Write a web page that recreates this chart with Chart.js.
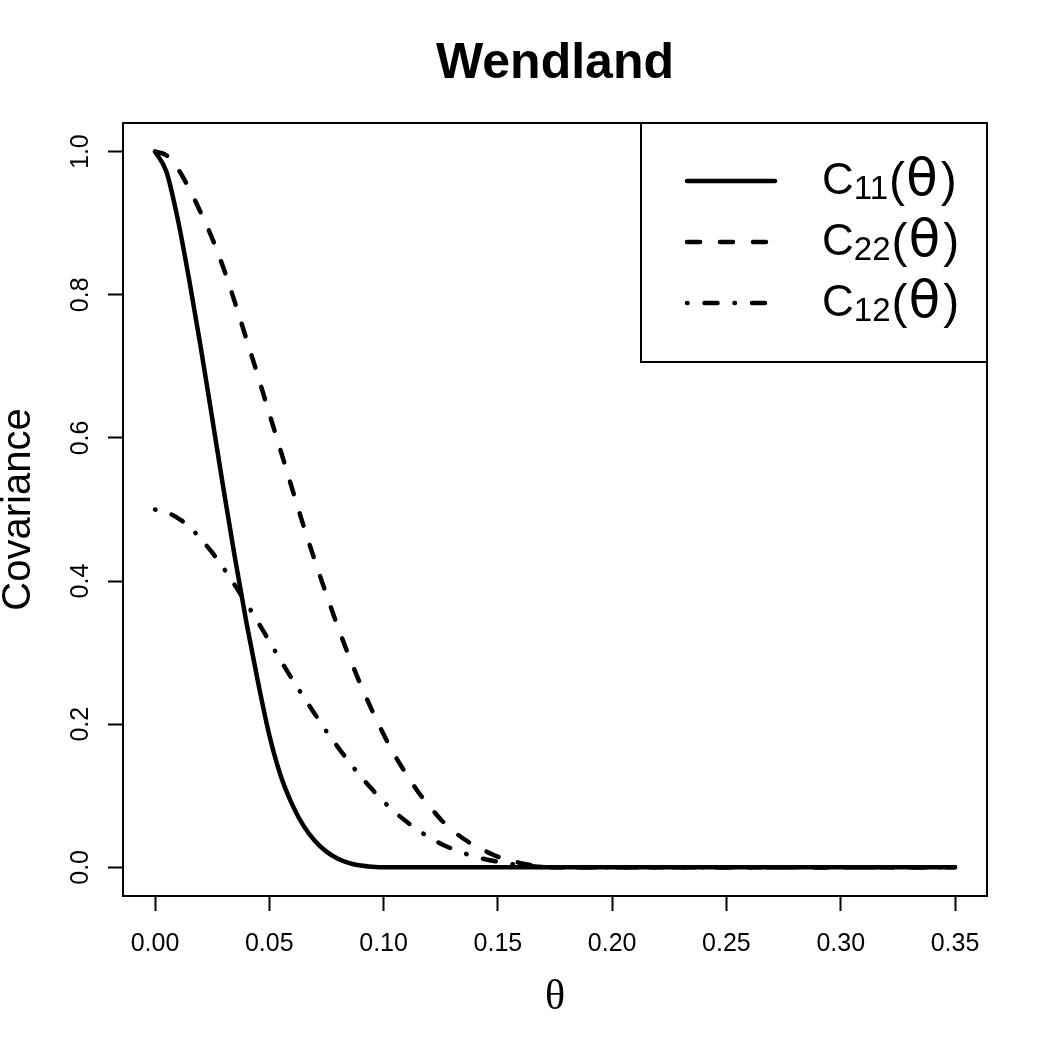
<!DOCTYPE html>
<html>
<head>
<meta charset="utf-8">
<script src="https://cdn.jsdelivr.net/npm/chart.js@4.4.1/dist/chart.umd.min.js"></script>
<style>
html,body{margin:0;padding:0;background:#fff;}
#wrap{width:1050px;height:1050px;position:relative;}
</style>
</head>
<body>
<div id="wrap"><canvas id="c" width="1050" height="1050"></canvas></div>
<script>
// ---- data ----
const thetas = [0.000,0.005,0.010,0.015,0.020,0.025,0.030,0.035,0.040,0.045,
                0.050,0.055,0.060,0.065,0.070,0.075,0.080,0.085,0.090,0.095,
                0.100,0.105,0.110,0.115,0.120,0.125,0.130,0.135,0.140,0.145,
                0.150,0.155,0.160,0.165,0.170,0.175,0.200,0.250,0.300,0.350];
const c11 = [1.000,0.972,0.905,0.820,0.727,0.628,0.528,0.432,0.342,0.260,
             0.185,0.128,0.088,0.058,0.037,0.022,0.012,0.006,0.0025,0.0008,
             0,0,0,0,0,0,0,0,0,0,
             0,0,0,0,0,0,0,0,0,0];
const c22 = [1.000,0.995,0.976,0.948,0.915,0.879,0.837,0.789,0.738,0.687,
             0.634,0.582,0.529,0.477,0.428,0.381,0.336,0.294,0.255,0.219,
             0.186,0.156,0.130,0.106,0.086,0.067,0.052,0.040,0.030,0.022,
             0.015,0.010,0.006,0.003,0.001,0,0,0,0,0];
const c12 = [0.500,0.496,0.488,0.476,0.459,0.440,0.418,0.394,0.369,0.343,
             0.316,0.289,0.263,0.238,0.214,0.190,0.168,0.147,0.127,0.109,
             0.092,0.077,0.064,0.052,0.042,0.033,0.026,0.020,0.015,0.011,
             0.008,0.005,0.003,0.0015,0.0005,0,0,0,0,0];
const seriesSubs = ['11','22','12'];
const xTicks = [0.00,0.05,0.10,0.15,0.20,0.25,0.30,0.35];
const yTicks = [0.0,0.2,0.4,0.6,0.8,1.0];
const chartTitle = 'Wendland';
const xTitle = 'θ';
const yTitle = 'Covariance';

const SANS = '"Liberation Sans", Arial, Helvetica, sans-serif';
const SERIF = '"Liberation Serif", "DejaVu Serif", serif';
const GREEK = '"DejaVu Sans", sans-serif';

function pts(ys){ return thetas.map((t,i)=>({x:t,y:ys[i]})); }

const boxPlugin = {
  id:'rbox',
  afterDatasetsDraw(chart){
    const {ctx, chartArea:a} = chart;
    ctx.save();
    ctx.strokeStyle='#000'; ctx.lineWidth=2;
    ctx.strokeRect(a.left, a.top, a.right-a.left, a.bottom-a.top);
    ctx.restore();
  }
};

const legendPlugin = {
  id:'rlegend',
  afterDatasetsDraw(chart){
    const {ctx, chartArea:a} = chart;
    const left = a.right - 346, top = a.top, bottom = a.top + 239;
    ctx.save();
    ctx.fillStyle='#fff';
    ctx.fillRect(left, top, a.right-left, bottom-top);
    ctx.strokeStyle='#000'; ctx.lineWidth=2;
    ctx.strokeRect(left, top, a.right-left, bottom-top);
    chart.data.datasets.forEach((ds,i)=>{
      const y = top + 58 + i*61;
      ctx.save();
      ctx.strokeStyle='#000';
      ctx.lineWidth = ds.borderWidth;
      ctx.setLineDash(ds.borderDash || []);
      ctx.lineCap = ds.borderCapStyle || 'butt';
      ctx.beginPath(); ctx.moveTo(left+46, y); ctx.lineTo(left+134, y); ctx.stroke();
      ctx.restore();
      let x = left + 181;
      const base = y + 13;
      ctx.fillStyle='#000';
      ctx.textBaseline='alphabetic'; ctx.textAlign='left';
      ctx.font = '44px ' + SANS;
      ctx.fillText('C', x, base); x += ctx.measureText('C').width;
      ctx.font = '33px ' + SANS;
      ctx.fillText(seriesSubs[i], x, base + 5); x += ctx.measureText(seriesSubs[i]).width + 1;
      ctx.font = '48px ' + SANS;
      ctx.fillText('(', x, base + 2); x += ctx.measureText('(').width + 1;
      ctx.font = '52px ' + GREEK;
      ctx.fillText('θ', x, base + 1); x += ctx.measureText('θ').width + 3;
      ctx.font = '48px ' + SANS;
      ctx.fillText(')', x, base + 2);
    });
    ctx.restore();
  }
};

const cfg = {
  type:'line',
  data:{
    datasets:[
      {label:'C11(θ)', data:pts(c11), borderColor:'#000', borderWidth:4.5, borderDash:[], borderCapStyle:'round'},
      {label:'C22(θ)', data:pts(c22), borderColor:'#000', borderWidth:4.5, borderDash:[13,20], borderCapStyle:'round'},
      {label:'C12(θ)', data:pts(c12), borderColor:'#000', borderWidth:4.5, borderDash:[0.5,17,13,17], borderCapStyle:'round'}
    ]
  },
  options:{
    responsive:false,
    animation:false,
    devicePixelRatio:1,
    layout:{padding:{left:0,right:63,top:0,bottom:0}},
    elements:{point:{radius:0}, line:{cubicInterpolationMode:'monotone', fill:false}},
    plugins:{
      legend:{display:false},
      tooltip:{enabled:false},
      title:{display:true, text:chartTitle, color:'#000', fullSize:false,
             font:{family:SANS, size:50, weight:'bold', lineHeight:1.2},
             padding:{top:34, bottom:29}}
    },
    scales:{
      x:{
        type:'linear', min:-0.014, max:0.364,
        afterBuildTicks:(s)=>{ s.ticks = xTicks.map(v=>({value:v})); },
        afterFit:(s)=>{ s.height = 154; },
        ticks:{autoSkip:false, color:'#000', padding:18, maxRotation:0, minRotation:0,
               font:{family:SANS, size:25, lineHeight:1.2},
               callback:(v)=>Number(v).toFixed(2)},
        grid:{display:true, drawOnChartArea:false, drawTicks:true, tickLength:15, tickWidth:2, tickColor:'#000'},
        border:{display:false},
        title:{display:true, text:xTitle, color:'#000',
               font:{family:SERIF, size:42, lineHeight:1.2}, padding:{top:0,bottom:27}}
      },
      y:{
        type:'linear', min:-0.04, max:1.04,
        afterBuildTicks:(s)=>{ s.ticks = yTicks.map(v=>({value:v})); },
        afterFit:(s)=>{ s.width = 123; },
        ticks:{autoSkip:false, color:'#000', padding:10, minRotation:90, maxRotation:90, crossAlign:'center',
               font:{family:SANS, size:25, lineHeight:1.2},
               callback:(v)=>Number(v).toFixed(1)},
        grid:{display:true, drawOnChartArea:false, drawTicks:true, tickLength:15, tickWidth:2, tickColor:'#000'},
        border:{display:false},
        title:{display:true, text:yTitle, color:'#000',
               font:{family:SANS, size:40, lineHeight:0.95}, padding:{top:0,bottom:0}}
      }
    }
  },
  plugins:[boxPlugin, legendPlugin]
};
new Chart(document.getElementById('c'), cfg);
</script>
</body>
</html>
